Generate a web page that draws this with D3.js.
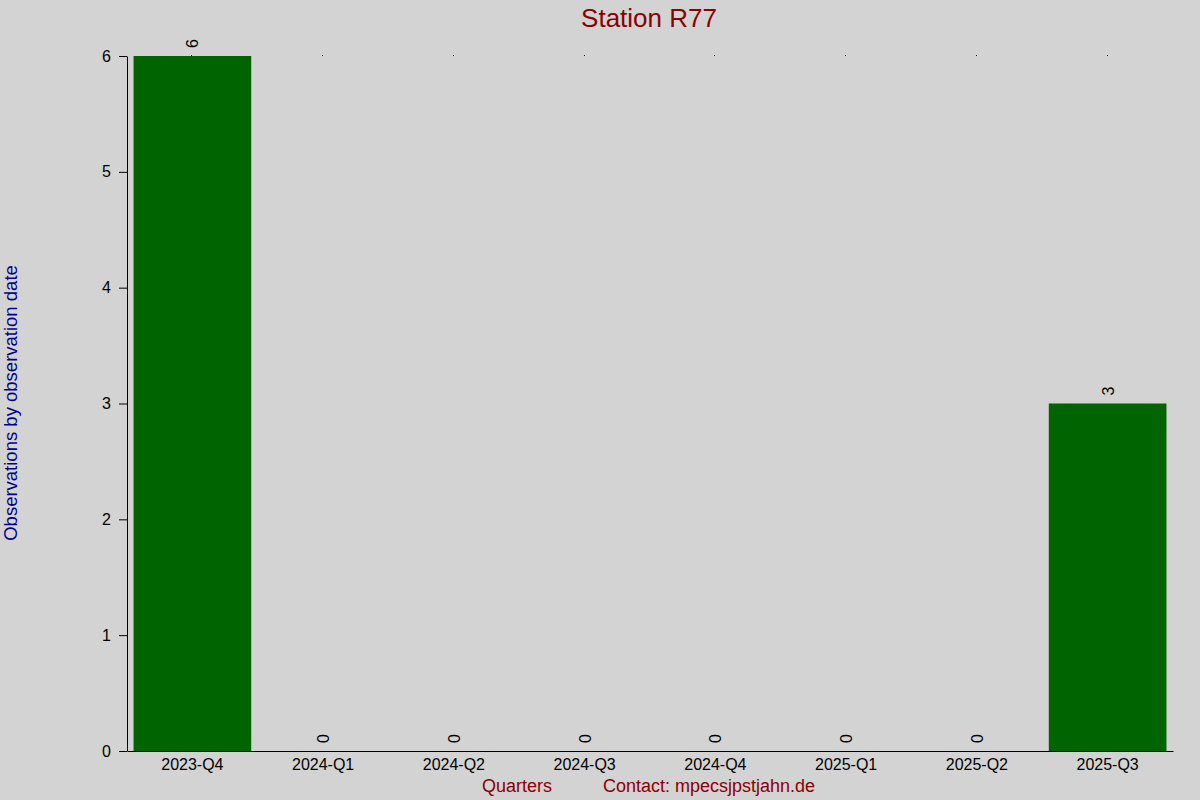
<!DOCTYPE html>
<html><head><meta charset="utf-8">
<script src="https://cdn.jsdelivr.net/npm/d3@7"></script>
<style>html,body{margin:0;padding:0;background:#d3d3d3;}svg{display:block;}</style>
</head><body>
<script>
const categories = ["2023-Q4","2024-Q1","2024-Q2","2024-Q3","2024-Q4","2025-Q1","2025-Q2","2025-Q3"];
const values = [6,0,0,0,0,0,0,3];
const yTicks = [0,1,2,3,4,5,6];
const titleText = "Station R77";
const xTitle = "Quarters";
const contactText = "Contact: mpecsjpstjahn.de";
const yTitle = "Observations by observation date";

const W = 1200, H = 800;
const m = {left:127, right:1173, top:56, bottom:751};
const svg = d3.select("body").append("svg").attr("width",W).attr("height",H)
  .style("font-family","'Liberation Sans', Arial, sans-serif");
svg.append("rect").attr("width",W).attr("height",H).attr("fill","#d3d3d3");

const x = d3.scaleBand().domain(categories).range([m.left,m.right]).paddingInner(0.1).paddingOuter(0.05);
const y = d3.scaleLinear().domain([0,6]).range([m.bottom,m.top]);

// bars
svg.selectAll("rect.bar").data(values).enter().append("rect")
  .attr("class","bar")
  .attr("x",(d,i)=>x(categories[i]))
  .attr("width",x.bandwidth())
  .attr("y",d=>y(d))
  .attr("height",d=>y(0)-y(d))
  .attr("fill","#006400");

// tiny marks at top
svg.selectAll("rect.dot").data(categories).enter().append("rect")
  .attr("x",d=>Math.round(x(d)+x.bandwidth()/2)-1).attr("y",Math.round(y(6))-1)
  .attr("width",1).attr("height",1).attr("fill","#000").attr("shape-rendering","crispEdges");

// value labels
svg.selectAll("text.val").data(values).enter().append("text")
  .attr("transform",(d,i)=>`translate(${x(categories[i])+x.bandwidth()/2+6},${y(d)-8}) rotate(-90)`)
  .attr("text-anchor","start").attr("font-size",16).attr("fill","#000")
  .text(d=>d);

// y axis
const yAxis = d3.axisLeft(y).tickValues(yTicks).tickSize(8).tickSizeOuter(0).tickPadding(8).tickFormat(d3.format("d"));
const gy = svg.append("g").attr("transform",`translate(${m.left},0)`).call(yAxis);
gy.selectAll("text").attr("font-size",16).attr("fill","#000").style("font-family","'Liberation Sans', Arial, sans-serif");
gy.selectAll("line").attr("stroke","#000");
gy.select(".domain").attr("stroke","#000");

// x axis
const xAxis = d3.axisBottom(x).tickSize(0).tickSizeOuter(0).tickPadding(8);
const gx = svg.append("g").attr("transform",`translate(0,${m.bottom})`).call(xAxis);
gx.selectAll("text").attr("font-size",16).attr("fill","#000").style("font-family","'Liberation Sans', Arial, sans-serif");
gx.select(".domain").attr("stroke","#000");

// titles
svg.append("text").attr("x",649).attr("y",27).attr("text-anchor","middle")
  .attr("font-size",26).attr("fill","#8b0000").text(titleText);
svg.append("text").attr("x",517).attr("y",792).attr("text-anchor","middle")
  .attr("font-size",18).attr("fill","#8b0000").text(xTitle);
svg.append("text").attr("x",603).attr("y",792).attr("text-anchor","start")
  .attr("font-size",18).attr("fill","#8b0000").text(contactText);
svg.append("text").attr("transform",`translate(17,403) rotate(-90)`).attr("text-anchor","middle")
  .attr("font-size",18.5).attr("fill","#00008b").text(yTitle);
</script>
</body></html>
